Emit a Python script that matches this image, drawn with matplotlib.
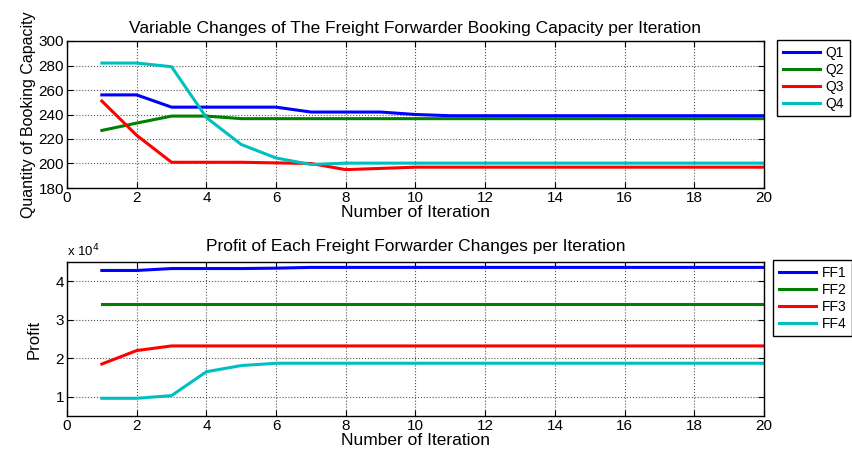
import numpy as np
import matplotlib.pyplot as plt
from matplotlib.ticker import FuncFormatter

plt.rcParams['font.family'] = ['Liberation Sans', 'DejaVu Sans']

# Datos
iteraciones = list(range(1, 21))
q1 = [256, 256, 246, 246, 246, 246, 242, 242, 242, 240] + [239] * 10
q2 = [227, 233, 238.7, 238.7, 236.6, 236.6, 236.6, 236.6, 236.6, 236.6] + [236.6] * 10
q3 = [251, 223, 201, 201, 201, 200.5, 200, 195, 196, 197] + [197] * 10
q4 = [282, 282, 279, 237.5, 215.5, 204.5, 199.2, 200.3, 200.3, 200.3] + [200.3] * 10

ff1 = [4.28, 4.28, 4.33, 4.33, 4.33, 4.34, 4.36, 4.36, 4.36, 4.36] + [4.36] * 10
ff2 = [3.40] * 20
ff3 = [1.85, 2.20, 2.32, 2.32, 2.32, 2.32, 2.32, 2.32, 2.32, 2.32] + [2.32] * 10
ff4 = [0.96, 0.96, 1.03, 1.65, 1.81, 1.87, 1.87, 1.87, 1.87, 1.87] + [1.87] * 10

colores = ['#0000ff', '#008000', '#ff0000', '#00bfbf']

fig = plt.figure(figsize=(8.53, 4.57), dpi=100)
W, H = 853, 457
ax1 = fig.add_axes([67 / W, 1 - 188 / H, (764 - 67) / W, (188 - 41) / H])
ax2 = fig.add_axes([67 / W, 1 - 416 / H, (764 - 67) / W, (416 - 262) / H])


def estilo(ax):
    ax.set_xlim(0, 20)
    ax.set_xticks(np.arange(0, 21, 2))
    ax.grid(True, color='#555555', linestyle=':', linewidth=0.8)
    ax.tick_params(direction='in', top=True, right=True, labelsize=11, length=4, pad=2)
    for s in ax.spines.values():
        s.set_linewidth(1.0)
    ax.set_xlabel('Number of Iteration', fontsize=12.5, labelpad=0)


for serie, c, nombre in zip([q1, q2, q3, q4], colores, ['Q1', 'Q2', 'Q3', 'Q4']):
    ax1.plot(iteraciones, serie, color=c, linewidth=2.2, label=nombre)
estilo(ax1)
ax1.set_ylim(180, 300)
ax1.set_yticks(np.arange(180, 301, 20))
ax1.set_ylabel('Quantity of Booking Capacity', fontsize=11.5, labelpad=2)
ax1.set_title('Variable Changes of The Freight Forwarder Booking Capacity per Iteration', fontsize=12.5, pad=6)
ax1.legend(loc='upper left', bbox_to_anchor=(777 / W, 1 - 40 / H), bbox_transform=fig.transFigure,
           fancybox=False, edgecolor='black', fontsize=10, handlelength=2.7, borderpad=0.4,
           labelspacing=0.22, handletextpad=0.4, borderaxespad=0, framealpha=1)

for serie, c, nombre in zip([ff1, ff2, ff3, ff4], colores, ['FF1', 'FF2', 'FF3', 'FF4']):
    ax2.plot(iteraciones, serie, color=c, linewidth=2.2, label=nombre)
estilo(ax2)
ax2.set_ylim(0.5, 4.5)
ax2.set_yticks([1, 2, 3, 4])
ax2.yaxis.set_major_formatter(FuncFormatter(lambda v, p: '%d' % v))
ax2.set_ylabel('Profit', fontsize=12, labelpad=10)
ax2.set_title('Profit of Each Freight Forwarder Changes per Iteration', fontsize=12.5, pad=8)
ax2.text(0.0, 1.02, r'x 10$^4$', transform=ax2.transAxes, fontsize=9.5, ha='left', va='bottom')
ax2.legend(loc='upper left', bbox_to_anchor=(773 / W, 1 - 260 / H), bbox_transform=fig.transFigure,
           fancybox=False, edgecolor='black', fontsize=10, handlelength=2.7, borderpad=0.4,
           labelspacing=0.22, handletextpad=0.4, borderaxespad=0, framealpha=1)

fig.savefig('out.png', dpi=100)
